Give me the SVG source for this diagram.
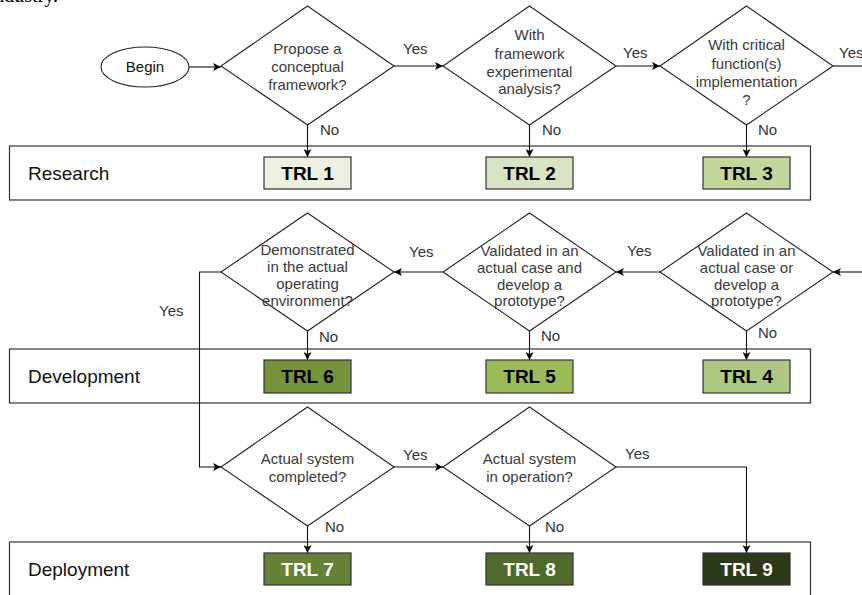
<svg xmlns="http://www.w3.org/2000/svg" width="862" height="595" viewBox="0 0 862 595">
<defs>
<marker id="arr" viewBox="0 0 10 10" refX="10" refY="5" markerWidth="8" markerHeight="8" markerUnits="userSpaceOnUse" orient="auto">
<path d="M0,0 L10,5 L0,10 L2.5,5 Z" fill="#000"/>
</marker>
<style>
.band{fill:#fff;stroke:#333;stroke-width:1.2}
.dia{fill:#fff;stroke:#222;stroke-width:1.1}
.q{font-family:"Liberation Sans",Arial,sans-serif;font-size:15px;fill:#3a3a3a;text-anchor:middle}
.lbl{font-family:"Liberation Sans",Arial,sans-serif;font-size:15px;fill:#333}
.band-t{font-family:"Liberation Sans",Arial,sans-serif;font-size:19px;fill:#111}
.trl{stroke:#333;stroke-width:1.2}
.trl-t{font-family:"Liberation Sans",Arial,sans-serif;font-size:19px;font-weight:bold;text-anchor:middle}
.c{fill:none;stroke:#111;stroke-width:1.1}
</style>
</defs>
<rect width="862" height="595" fill="#fff"/>
<text x="58" y="2" text-anchor="end" font-family="Liberation Serif,serif" font-size="20" fill="#000">industry.</text>

<g id="band-research"><rect class="band" x="9.5" y="146" width="801" height="54"/><text class="band-t" x="28" y="180">Research</text></g>
<g id="band-development"><rect class="band" x="9.5" y="349" width="801" height="54"/><text class="band-t" x="28" y="383">Development</text></g>
<g id="band-deployment"><rect class="band" x="9.5" y="542" width="801" height="60"/><text class="band-t" x="28" y="576">Deployment</text></g>

<g id="connectors">
<line class="c" x1="189" y1="67" x2="221" y2="67" marker-end="url(#arr)"/>
<line class="c" x1="394" y1="66" x2="443" y2="66" marker-end="url(#arr)"/>
<line class="c" x1="616" y1="66" x2="660" y2="66" marker-end="url(#arr)"/>
<line class="c" x1="833" y1="66" x2="862" y2="66"/>
<line class="c" x1="307.5" y1="125" x2="307.5" y2="157" marker-end="url(#arr)"/>
<line class="c" x1="529.5" y1="125" x2="529.5" y2="157" marker-end="url(#arr)"/>
<line class="c" x1="746.5" y1="125" x2="746.5" y2="157" marker-end="url(#arr)"/>
<line class="c" x1="862" y1="272" x2="833" y2="272" marker-end="url(#arr)"/>
<line class="c" x1="660" y1="272" x2="616" y2="272" marker-end="url(#arr)"/>
<line class="c" x1="443" y1="272" x2="394" y2="272" marker-end="url(#arr)"/>
<polyline class="c" points="221,272 199.5,272 199.5,467 221,467" marker-end="url(#arr)"/>
<line class="c" x1="307.5" y1="331" x2="307.5" y2="360" marker-end="url(#arr)"/>
<line class="c" x1="529.5" y1="331" x2="529.5" y2="360" marker-end="url(#arr)"/>
<line class="c" x1="746.5" y1="331" x2="746.5" y2="360" marker-end="url(#arr)"/>
<line class="c" x1="394" y1="467" x2="443" y2="467" marker-end="url(#arr)"/>
<polyline class="c" points="616,467 746.5,467 746.5,553" marker-end="url(#arr)"/>
<line class="c" x1="307.5" y1="526" x2="307.5" y2="553" marker-end="url(#arr)"/>
<line class="c" x1="529.5" y1="526" x2="529.5" y2="553" marker-end="url(#arr)"/>
<text class="lbl" x="403" y="54">Yes</text>
<text class="lbl" x="623" y="58">Yes</text>
<text class="lbl" x="839" y="58">Yes</text>
<text class="lbl" x="320" y="135">No</text>
<text class="lbl" x="542" y="135">No</text>
<text class="lbl" x="758" y="135">No</text>
<text class="lbl" x="409" y="257">Yes</text>
<text class="lbl" x="627" y="256">Yes</text>
<text class="lbl" x="159" y="316">Yes</text>
<text class="lbl" x="319" y="342">No</text>
<text class="lbl" x="541" y="341">No</text>
<text class="lbl" x="758" y="338">No</text>
<text class="lbl" x="403" y="460">Yes</text>
<text class="lbl" x="625" y="459">Yes</text>
<text class="lbl" x="325" y="532">No</text>
<text class="lbl" x="545" y="532">No</text>
</g>

<g id="begin"><ellipse cx="145" cy="67" rx="44" ry="20" fill="#fff" stroke="#222" stroke-width="1.1"/><text class="q" x="145" y="72" style="fill:#111">Begin</text></g>

<g id="q1"><polygon class="dia" points="307.5,6 394,66 307.5,125 221,66"/>
<text class="q" x="307.5" y="54">Propose a</text><text class="q" x="307.5" y="72">conceptual</text><text class="q" x="307.5" y="90">framework?</text></g>
<g id="q2"><polygon class="dia" points="529.5,6 616,66 529.5,125 443,66"/>
<text class="q" x="529.5" y="40">With</text><text class="q" x="529.5" y="59">framework</text><text class="q" x="529.5" y="77">experimental</text><text class="q" x="529.5" y="94">analysis?</text></g>
<g id="q3"><polygon class="dia" points="746.5,6 833,66 746.5,125 660,66"/>
<text class="q" x="746.5" y="50">With critical</text><text class="q" x="746.5" y="69">function(s)</text><text class="q" x="746.5" y="87">implementation</text><text class="q" x="746.5" y="105">?</text></g>

<g id="q6"><polygon class="dia" points="307.5,213 394,272 307.5,331 221,272"/>
<text class="q" x="307.5" y="255">Demonstrated</text><text class="q" x="307.5" y="272">in the actual</text><text class="q" x="307.5" y="289">operating</text><text class="q" x="307.5" y="306">environment?</text></g>
<g id="q5"><polygon class="dia" points="529.5,213 616,272 529.5,331 443,272"/>
<text class="q" x="529.5" y="256">Validated in an</text><text class="q" x="529.5" y="273">actual case and</text><text class="q" x="529.5" y="290">develop a</text><text class="q" x="529.5" y="306">prototype?</text></g>
<g id="q4"><polygon class="dia" points="746.5,213 833,272 746.5,331 660,272"/>
<text class="q" x="746.5" y="256">Validated in an</text><text class="q" x="746.5" y="273">actual case or</text><text class="q" x="746.5" y="290">develop a</text><text class="q" x="746.5" y="306">prototype?</text></g>

<g id="q7"><polygon class="dia" points="307.5,407 394,467 307.5,526 221,467"/>
<text class="q" x="307.5" y="464">Actual system</text><text class="q" x="307.5" y="482">completed?</text></g>
<g id="q8"><polygon class="dia" points="529.5,407 616,467 529.5,526 443,467"/>
<text class="q" x="529.5" y="464">Actual system</text><text class="q" x="529.5" y="482">in operation?</text></g>

<g id="trl1"><rect class="trl" x="264" y="157" width="87" height="32" fill="#ebf1de"/><text class="trl-t" x="307.5" y="180" fill="#000">TRL 1</text></g>
<g id="trl2"><rect class="trl" x="486" y="157" width="87" height="32" fill="#d7e3c2"/><text class="trl-t" x="529.5" y="180" fill="#000">TRL 2</text></g>
<g id="trl3"><rect class="trl" x="703" y="157" width="87" height="32" fill="#c3d69b"/><text class="trl-t" x="746.5" y="180" fill="#000">TRL 3</text></g>
<g id="trl6"><rect class="trl" x="264" y="360" width="87" height="33" fill="#76923c"/><text class="trl-t" x="307.5" y="383" fill="#000">TRL 6</text></g>
<g id="trl5"><rect class="trl" x="486" y="360" width="87" height="33" fill="#9bbb59"/><text class="trl-t" x="529.5" y="383" fill="#000">TRL 5</text></g>
<g id="trl4"><rect class="trl" x="703" y="360" width="87" height="33" fill="#adc883"/><text class="trl-t" x="746.5" y="383" fill="#000">TRL 4</text></g>
<g id="trl7"><rect class="trl" x="264" y="553" width="87" height="32" fill="#668238"/><text class="trl-t" x="307.5" y="576" fill="#fff">TRL 7</text></g>
<g id="trl8"><rect class="trl" x="486" y="553" width="87" height="32" fill="#4f6a2c"/><text class="trl-t" x="529.5" y="576" fill="#fff">TRL 8</text></g>
<g id="trl9"><rect class="trl" x="703" y="553" width="87" height="32" fill="#2c3a19"/><text class="trl-t" x="746.5" y="576" fill="#fff">TRL 9</text></g>
</svg>
